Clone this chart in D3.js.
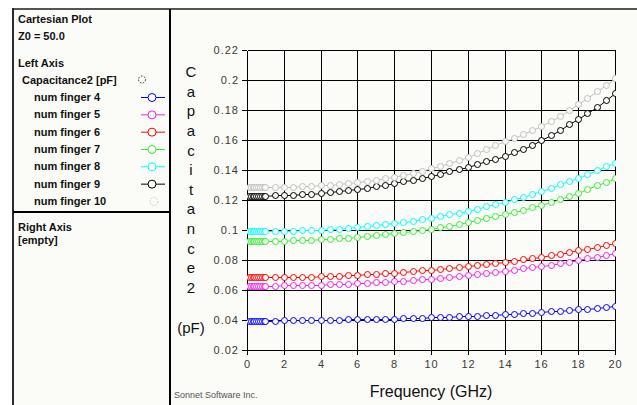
<!DOCTYPE html>
<html>
<head>
<meta charset="utf-8">
<script src="https://cdn.jsdelivr.net/npm/d3@7"></script>
<style>
  html, body { margin: 0; padding: 0; background: #ffffff; }
  svg { display: block; }
</style>
</head>
<body>
<svg id="chart" width="637" height="405"></svg>
<script>
// Sweep frequencies (GHz): 0.1 GHz steps up to 1 GHz, then every 0.5 GHz
const freqGHz = [0.1, 0.2, 0.3, 0.4, 0.5, 0.6, 0.7, 0.8, 0.9, 1.0,
  1.5, 2.0, 2.5, 3.0, 3.5, 4.0, 4.5, 5.0, 5.5, 6.0, 6.5, 7.0, 7.5, 8.0, 8.5, 9.0, 9.5, 10.0,
  10.5, 11.0, 11.5, 12.0, 12.5, 13.0, 13.5, 14.0, 14.5, 15.0, 15.5, 16.0, 16.5, 17.0, 17.5, 18.0,
  18.5, 19.0, 19.5, 20.0];

// Capacitance2 (pF) for each finger count
const finger4 = [0.0395, 0.0395, 0.0395, 0.0395, 0.0395, 0.0395, 0.0395, 0.0396, 0.0396, 0.0396,
  0.0396, 0.0397, 0.0397, 0.0398, 0.0399, 0.0400, 0.0401, 0.0402, 0.0404, 0.0405, 0.0406, 0.0407, 0.0409, 0.0410, 0.0412, 0.0413, 0.0415, 0.0417,
  0.0419, 0.0422, 0.0424, 0.0427, 0.0430, 0.0433, 0.0436, 0.0440, 0.0443, 0.0447, 0.0450, 0.0454, 0.0458, 0.0462, 0.0467, 0.0471,
  0.0476, 0.0481, 0.0486, 0.0492];
const finger5 = [0.0629, 0.0629, 0.0629, 0.0629, 0.0629, 0.0629, 0.0630, 0.0630, 0.0630, 0.0630,
  0.0630, 0.0631, 0.0632, 0.0633, 0.0634, 0.0636, 0.0638, 0.0640, 0.0642, 0.0645, 0.0648, 0.0651, 0.0654, 0.0658, 0.0662, 0.0666, 0.0671, 0.0676,
  0.0682, 0.0688, 0.0694, 0.0700, 0.0707, 0.0714, 0.0721, 0.0728, 0.0736, 0.0744, 0.0752, 0.0760, 0.0770, 0.0780, 0.0790, 0.0800,
  0.0811, 0.0822, 0.0833, 0.0845];
const finger6 = [0.0685, 0.0685, 0.0685, 0.0685, 0.0685, 0.0685, 0.0685, 0.0686, 0.0686, 0.0686,
  0.0686, 0.0687, 0.0688, 0.0689, 0.0690, 0.0692, 0.0694, 0.0696, 0.0698, 0.0701, 0.0704, 0.0708, 0.0712, 0.0716, 0.0721, 0.0726, 0.0731, 0.0736,
  0.0741, 0.0747, 0.0753, 0.0759, 0.0766, 0.0773, 0.0780, 0.0787, 0.0795, 0.0804, 0.0813, 0.0822, 0.0832, 0.0843, 0.0854, 0.0865,
  0.0876, 0.0888, 0.0900, 0.0912];
const finger7 = [0.0929, 0.0929, 0.0929, 0.0929, 0.0929, 0.0929, 0.0929, 0.0929, 0.0929, 0.0929,
  0.0929, 0.0930, 0.0931, 0.0933, 0.0935, 0.0937, 0.0940, 0.0944, 0.0948, 0.0953, 0.0959, 0.0965, 0.0971, 0.0978, 0.0985, 0.0993, 0.1001, 0.1010,
  0.1020, 0.1030, 0.1041, 0.1052, 0.1064, 0.1077, 0.1091, 0.1105, 0.1120, 0.1136, 0.1153, 0.1170, 0.1189, 0.1208, 0.1228, 0.1250,
  0.1273, 0.1297, 0.1323, 0.1350];
const finger8 = [0.0991, 0.0991, 0.0991, 0.0991, 0.0991, 0.0991, 0.0991, 0.0991, 0.0992, 0.0992,
  0.0992, 0.0993, 0.0995, 0.0997, 0.0999, 0.1001, 0.1005, 0.1009, 0.1014, 0.1019, 0.1025, 0.1031, 0.1038, 0.1046, 0.1054, 0.1063, 0.1072, 0.1082,
  0.1093, 0.1104, 0.1116, 0.1128, 0.1142, 0.1157, 0.1172, 0.1188, 0.1205, 0.1223, 0.1242, 0.1262, 0.1283, 0.1304, 0.1327, 0.1350,
  0.1374, 0.1398, 0.1424, 0.1450];
const finger9 = [0.1229, 0.1229, 0.1229, 0.1229, 0.1229, 0.1229, 0.1229, 0.1229, 0.1230, 0.1230,
  0.1231, 0.1232, 0.1234, 0.1237, 0.1241, 0.1245, 0.1251, 0.1257, 0.1264, 0.1272, 0.1281, 0.1291, 0.1301, 0.1312, 0.1324, 0.1336, 0.1349, 0.1362,
  0.1376, 0.1391, 0.1406, 0.1422, 0.1439, 0.1457, 0.1476, 0.1495, 0.1518, 0.1543, 0.1570, 0.1600, 0.1633, 0.1668, 0.1704, 0.1742,
  0.1781, 0.1822, 0.1866, 0.1915];
const finger10 = [0.1285, 0.1285, 0.1285, 0.1285, 0.1285, 0.1285, 0.1285, 0.1285, 0.1286, 0.1286,
  0.1287, 0.1288, 0.1290, 0.1292, 0.1295, 0.1298, 0.1302, 0.1307, 0.1312, 0.1318, 0.1326, 0.1335, 0.1345, 0.1355, 0.1367, 0.1380, 0.1396, 0.1412,
  0.1430, 0.1449, 0.1469, 0.1490, 0.1514, 0.1539, 0.1564, 0.1590, 0.1616, 0.1642, 0.1668, 0.1695, 0.1728, 0.1763, 0.1800, 0.1838,
  0.1880, 0.1924, 0.1969, 0.2015];

const seriesNames = ["num finger 4", "num finger 5", "num finger 6", "num finger 7",
  "num finger 8", "num finger 9", "num finger 10"];
const seriesValues = [finger4, finger5, finger6, finger7, finger8, finger9, finger10];
const seriesColors = ["#0000ff", "#f020f0", "#ff0000", "#33ee33", "#00ffff", "#000000", "#c0c0c0"];

const xTicks = [0, 2, 4, 6, 8, 10, 12, 14, 16, 18, 20];
const xTickLabels = ["0", "2", "4", "6", "8", "10", "12", "14", "16", "18", "20"];
const yTicks = [0.02, 0.04, 0.06, 0.08, 0.10, 0.12, 0.14, 0.16, 0.18, 0.20, 0.22];
const yTickLabels = ["0.02", "0.04", "0.06", "0.08", "0.1", "0.12", "0.14", "0.16", "0.18", "0.2", "0.22"];

const FONT = "'Liberation Sans', Arial, sans-serif";
const BG = "#fbfbf8";

const svg = d3.select("#chart");

// page background and frame
svg.append("rect").attr("x", 13).attr("y", 9).attr("width", 637 - 13).attr("height", 405 - 9).attr("fill", BG);
svg.append("line").attr("x1", 12).attr("x2", 637).attr("y1", 9).attr("y2", 9)
  .attr("stroke", "#555").attr("stroke-width", 2);
svg.append("line").attr("x1", 13).attr("x2", 13).attr("y1", 8).attr("y2", 405)
  .attr("stroke", "#2a2a2a").attr("stroke-width", 2);
svg.append("line").attr("x1", 170).attr("x2", 170).attr("y1", 9).attr("y2", 405)
  .attr("stroke", "#000").attr("stroke-width", 2);
svg.append("line").attr("x1", 13).attr("x2", 170).attr("y1", 212).attr("y2", 212)
  .attr("stroke", "#000").attr("stroke-width", 2);

// ---- side panel ----
const panel = svg.append("g").attr("font-family", FONT).attr("font-size", 11)
  .attr("font-weight", "bold").attr("fill", "#111");
panel.append("text").attr("x", 18).attr("y", 22.5).text("Cartesian Plot");
panel.append("text").attr("x", 18).attr("y", 40).text("Z0 = 50.0");
panel.append("text").attr("x", 18).attr("y", 67).text("Left Axis");
panel.append("text").attr("x", 22).attr("y", 83.5).text("Capacitance2 [pF]");
panel.append("circle").attr("cx", 142).attr("cy", 79.5).attr("r", 3.5)
  .attr("fill", "none").attr("stroke", "#222").attr("stroke-width", 1).attr("stroke-dasharray", "1.5,1.5");
panel.append("text").attr("x", 18).attr("y", 231).text("Right Axis");
panel.append("text").attr("x", 18).attr("y", 243.5).text("[empty]");

const legendRow = panel.selectAll("g.entry").data(seriesNames).join("g")
  .attr("class", "entry")
  .attr("transform", (d, i) => `translate(0,${97 + i * 17.33})`);
legendRow.append("text").attr("x", 34).attr("y", 4).text(d => d);
legendRow.filter((d, i) => i < seriesNames.length - 1).append("line")
  .attr("x1", 141).attr("x2", 165).attr("y1", 0.5).attr("y2", 0.5)
  .attr("stroke", (d, i) => seriesColors[i]).attr("stroke-width", 1);
legendRow.append("circle").attr("cx", (d, i) => i < seriesNames.length - 1 ? 152 : 154).attr("cy", 0.5).attr("r", 4)
  .attr("fill", BG).attr("stroke", (d, i) => seriesColors[i]).attr("stroke-width", 1)
  .attr("stroke-dasharray", (d, i) => i < seriesNames.length - 1 ? null : "1.5,1.5");

// ---- plot ----
const x = d3.scaleLinear().domain([0, 20]).range([247, 615]).interpolate(d3.interpolateRound);
const y = d3.scaleLinear().domain([0.02, 0.22]).range([350, 50]).interpolate(d3.interpolateRound);

// grid
const grid = svg.append("g").attr("stroke", "#000").attr("stroke-width", 1).attr("shape-rendering", "crispEdges");
grid.selectAll("line.v").data(xTicks).join("line").attr("class", "v")
  .attr("x1", d => x(d) + 0.5).attr("x2", d => x(d) + 0.5).attr("y1", y(0.22) + 0.5).attr("y2", y(0.02) + 0.5);
grid.selectAll("line.h").data(yTicks).join("line").attr("class", "h")
  .attr("x1", x(0) + 0.5).attr("x2", x(20) + 0.5).attr("y1", d => y(d) + 0.5).attr("y2", d => y(d) + 0.5);

// axes
const yAxis = d3.axisLeft(y).tickValues(yTicks).tickSize(5).tickSizeOuter(0).tickPadding(3)
  .tickFormat((d, i) => yTickLabels[i]);
const xAxis = d3.axisBottom(x).tickValues(xTicks).tickSize(5).tickSizeOuter(0).tickPadding(5)
  .tickFormat((d, i) => xTickLabels[i]);

const gy = svg.append("g").attr("transform", `translate(${x(0)},0)`).call(yAxis);
const gx = svg.append("g").attr("transform", `translate(0,${y(0.02)})`).call(xAxis);
[gy, gx].forEach(g => {
  g.attr("font-family", FONT).attr("font-size", 11);
  g.selectAll("path.domain").attr("stroke", "#000").attr("shape-rendering", "crispEdges");
  g.selectAll(".tick line").attr("stroke", "#000").attr("shape-rendering", "crispEdges");
  g.selectAll(".tick text").attr("fill", "#3a3a3a").style("letter-spacing", "1px");
});

// axis titles
const yTitle = svg.append("g").attr("font-family", FONT).attr("font-size", 15).attr("fill", "#111")
  .attr("text-anchor", "middle");
yTitle.selectAll("text").data("Capacitance2".split("")).join("text")
  .attr("x", 191).attr("y", (d, i) => 72 + i * 19.6).attr("dy", "0.35em").text(d => d);
yTitle.append("text").attr("x", 191).attr("y", 328).attr("dy", "0.35em").text("(pF)");

svg.append("text").attr("x", (x(0) + x(20)) / 2).attr("y", 397).attr("text-anchor", "middle")
  .attr("font-family", FONT).attr("font-size", 16).attr("fill", "#111").text("Frequency (GHz)");

svg.append("text").attr("x", 174).attr("y", 398).attr("font-family", FONT).attr("font-size", 9)
  .attr("fill", "#555").text("Sonnet Software Inc.");

// curves
svg.append("clipPath").attr("id", "plotClip").append("rect")
  .attr("x", x(0)).attr("y", y(0.22)).attr("width", x(20) - x(0) + 1).attr("height", y(0.02) - y(0.22) + 1);

const line = d3.line().x(d => x(d[0]) + 0.5).y(d => y(d[1]) + 0.5);
const curves = svg.append("g").attr("clip-path", "url(#plotClip)");
seriesValues.forEach((vals, si) => {
  const pts = freqGHz.map((f, i) => [f, vals[i]]);
  const g = curves.append("g");
  g.append("path").datum(pts).attr("d", line).attr("fill", "none")
    .attr("stroke", seriesColors[si]).attr("stroke-width", 1);
  g.selectAll("circle").data(pts).join("circle")
    .attr("cx", d => x(d[0]) + 0.5).attr("cy", d => y(d[1]) + 0.5).attr("r", 3)
    .attr("fill", BG).attr("stroke", seriesColors[si]).attr("stroke-width", 1);
});
</script>
</body>
</html>
